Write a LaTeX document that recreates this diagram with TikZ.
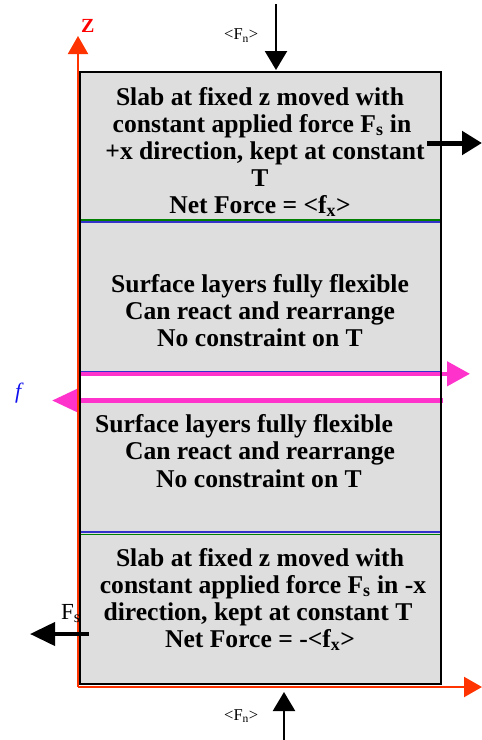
\documentclass[tikz,border=0pt]{standalone}
\usepackage{fontspec}
\setmainfont{Liberation Serif}
\usetikzlibrary{arrows.meta}

\definecolor{slabgray}{RGB}{222,222,222}
\definecolor{axisred}{RGB}{255,51,0}
\definecolor{flexpink}{RGB}{255,51,204}
\definecolor{sepblue}{RGB}{51,51,204}
\definecolor{sepgreen}{RGB}{0,128,0}
\definecolor{labelblue}{RGB}{16,16,238}

\begin{document}
\begin{tikzpicture}[x=1pt,y=-1pt,
  body/.style={inner sep=0pt, anchor=base, font=\fontsize{25.6}{27}\selectfont\bfseries},
  smalllabel/.style={inner sep=0pt, anchor=base west, font=\fontsize{16.5}{18}\selectfont},
  normalforce/.style={line width=2.3pt, -{Triangle[length=19pt,width=22pt]}},
  shearforce/.style={line width=5pt, -{Triangle[length=20pt,width=23pt]}},
  axis/.style={axisred, line width=2.2pt, -{Triangle[length=18pt,width=20pt]}},
  flexline/.style={flexpink, line width=4.5pt},
]
\useasboundingbox (0,0) rectangle (482,740);

% simulation cell
\fill[slabgray] (80,72) rectangle (441,684);
\fill[white] (80,376) rectangle (441,398);

% layer separators
\draw[sepgreen, line width=1.7pt] (80,219.8) -- (440,219.8);
\draw[sepblue, line width=2pt] (80,221.7) -- (440,221.7);
\draw[sepblue, line width=2.2pt] (80,531.8) -- (440,531.8);
\draw[sepgreen, line width=1.5pt] (80,534.5) -- (440,534.5);

% interface with opposing forces
\draw[sepblue, line width=1pt] (80,371.5) -- (441,371.5);
\coordinate (fR) at (470,373.8);
\coordinate (fL) at (52,400.5);
\draw[flexline, -{Triangle[length=23pt,width=24pt]}] (80,373.8) -- (fR);
\draw[flexline, -{Triangle[length=25pt,width=22pt]}] (443,400.5) -- (fL);

% cell border
\draw[black, line width=2pt] (80,72) rectangle (441,684);

% axes
\coordinate (origin) at (78,687);
\coordinate (ztip) at (78,36);
\coordinate (xtip) at (482,687);
\draw[axis] (origin) -- (ztip);
\draw[axis] (origin) -- (xtip);
\node[inner sep=0pt, anchor=base west, text=red,
  font=\fontsize{20}{22}\selectfont\bfseries] (zlab) at (81,32) {Z};

% normal load
\coordinate (ntopstart) at (276,4);
\coordinate (ntoptip) at (276,70);
\draw[normalforce] (ntopstart) -- (ntoptip);
\node[smalllabel] (fntop) at (224,39.5) {<F\textsubscript{n}>};
\coordinate (nbotstart) at (284,740);
\coordinate (nbottip) at (284,692);
\draw[normalforce] (nbotstart) -- (nbottip);
\node[smalllabel] (fnbot) at (224,720) {<F\textsubscript{n}>};

% applied shear forces
\coordinate (srstart) at (427,143);
\coordinate (srtip) at (482,143);
\draw[shearforce] (srstart) -- (srtip);
\node[inner sep=0pt, anchor=base west, font=\fontsize{23}{25}\selectfont]
  (fslab) at (61,619) {F\textsubscript{s}};
\coordinate (slstart) at (89,634);
\coordinate (sltip) at (30,634);
\draw[line width=4pt, -{Triangle[length=25pt,width=23pt]}] (slstart) -- (sltip);

% friction label
\node[inner sep=0pt, anchor=base west, text=labelblue,
  font=\fontsize{22}{24}\selectfont\itshape] (flab) at (15,398) {f};

% upper slab
\node[body] (u1) at (260,105) {Slab at fixed z moved with};
\node[body] (u2) at (262,132) {constant applied force F\textsubscript{s} in};
\node[body] (u3) at (265,159) {+x direction, kept at constant};
\node[body] (u4) at (260,186) {T};
\node[body] (u5) at (260,213) {Net Force = <f\textsubscript{x}>};

% upper surface layers
\node[body] (a1) at (260,292) {Surface layers fully flexible};
\node[body] (a2) at (260,319) {Can react and rearrange};
\node[body] (a3) at (260,346) {No constraint on T};

% lower surface layers
\node[body] (b1) at (244,432) {Surface layers fully flexible};
\node[body] (b2) at (260,459) {Can react and rearrange};
\node[body] (b3) at (259,487) {No constraint on T};

% lower slab
\node[body] (l1) at (260,566) {Slab at fixed z moved with};
\node[body] (l2) at (263,593) {constant applied force F\textsubscript{s} in -x};
\node[body] (l3) at (258,620) {direction, kept at constant T};
\node[body] (l4) at (260,647) {Net Force = -<f\textsubscript{x}>};
\end{tikzpicture}
\end{document}
